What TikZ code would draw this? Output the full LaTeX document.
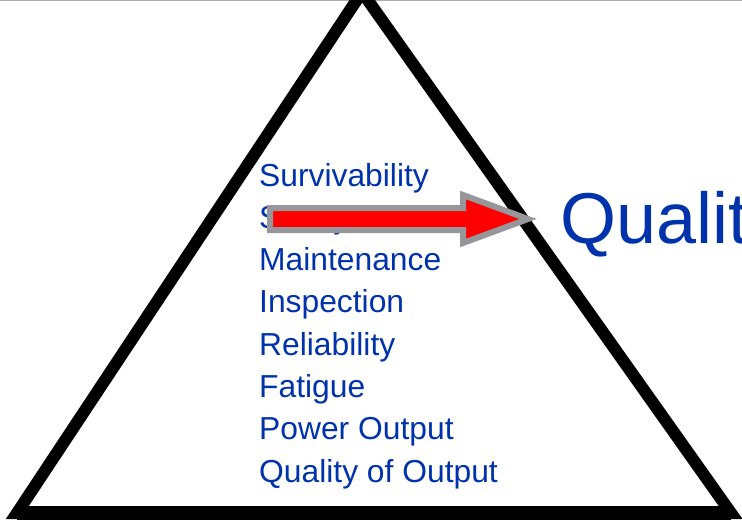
\documentclass[tikz,border=0pt]{standalone}
\usepackage{fontspec}
\setmainfont{Liberation Sans}
\definecolor{txtblue}{RGB}{0,51,171}
\definecolor{arrgray}{RGB}{150,150,155}
\begin{document}
\begin{tikzpicture}[x=1pt,y=-1pt,
  item/.style={anchor=base west,inner sep=0pt,text=txtblue,font=\fontsize{31.8}{38}\selectfont},
  big/.style={anchor=base west,inner sep=0pt,text=txtblue,font=\fontsize{72}{80}\selectfont},
  tri/.style={draw=black,line width=12pt,line join=miter},
  blockarrow/.style={draw=arrgray,fill=red,line width=6pt,line join=miter}]
\useasboundingbox (0,0) rectangle (742,520);
\clip (0,0) rectangle (742,520);
\fill[white] (0,0) rectangle (742,520);
\draw[arrgray!80,line width=1.2pt] (0,0.6) -- (742,0.6);
% triangle
\coordinate (apex) at (362,-8);
\coordinate (bl) at (17,513);
\coordinate (br) at (731,513);
\draw[tri] (apex) -- (bl) -- (br) -- cycle;
\draw[black,line width=14pt] (bl) -- (br);
% list
\node[item] (l1) at (259,186) {Survivability};
\node[item] (l2) at (259,228.3) {Safety};
\node[item] (l3) at (259,270.6) {Maintenance};
\node[item] (l4) at (259,312.9) {Inspection};
\node[item] (l5) at (259,355.2) {Reliability};
\node[item] (l6) at (259,397.5) {Fatigue};
\node[item] (l7) at (259,439.8) {Power Output};
\node[item] (l8) at (259,482.1) {Quality of Output};
% big label
\node[big] (q) at (560,243) {Quality};
% block arrow
\draw[blockarrow] (270,208) -- (463,208) -- (463,195) -- (528,219) -- (463,243) -- (463,230) -- (270,230) -- cycle;
\end{tikzpicture}
\end{document}
